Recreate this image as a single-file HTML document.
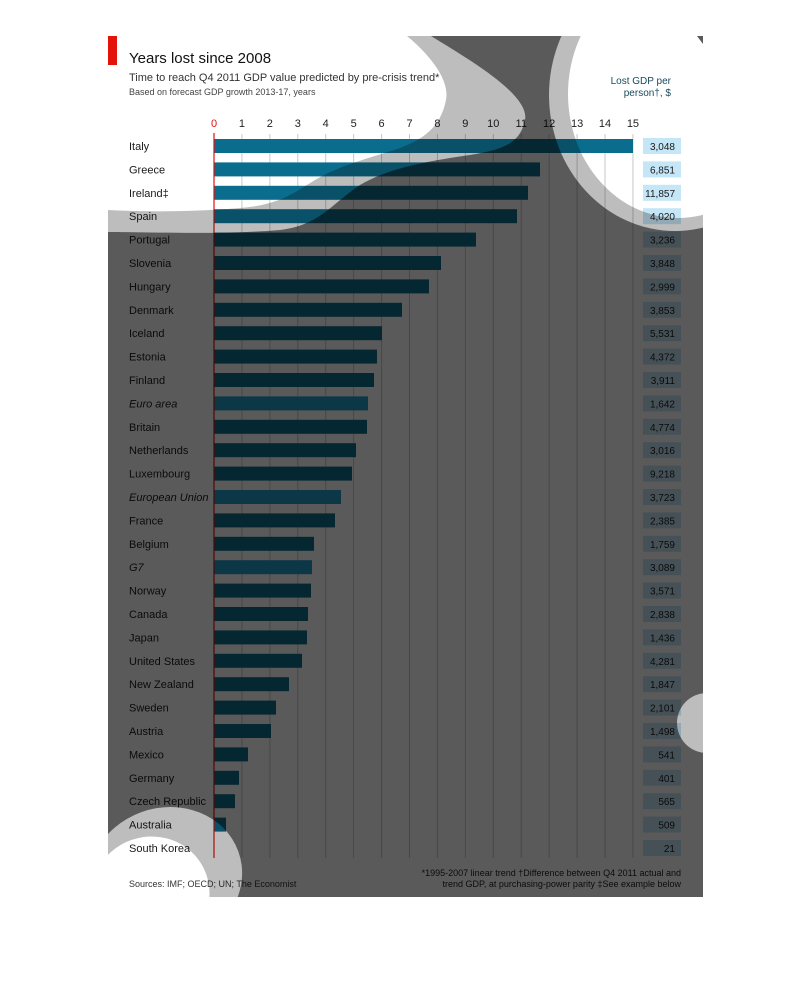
<!DOCTYPE html>
<html><head><meta charset="utf-8"><style>
html,body{margin:0;padding:0;background:#fff;width:810px;height:992px;overflow:hidden}
#c{position:absolute;left:0;top:0;width:810px;height:992px}
svg text{font-family:"Liberation Sans",sans-serif}
</style></head><body>
<svg id="c" width="810" height="992" viewBox="0 0 810 992" xmlns="http://www.w3.org/2000/svg">
<rect x="108" y="36" width="595" height="861" fill="#fff"/>
<g id="chart"></g>
<g style="mix-blend-mode:multiply">
<defs><clipPath id="cp"><rect x="108" y="36" width="595" height="861"/></clipPath></defs>
<g clip-path="url(#cp)">
<rect x="108" y="36" width="595" height="861" fill="#5a5a5a"/>
<path d="M108,36 L431,36 C470,60 530,95 525,120 C520,145 500,150 470,155 C420,162 385,170 360,185 C330,205 320,225 280,230 C220,235 150,232 108,232 Z" fill="#bdbdbd"/>
<path d="M108,36 L407,36 C430,55 450,80 446,100 C440,130 420,140 400,148 C370,158 340,165 315,180 C295,192 280,205 240,208 C190,212 150,212 108,210 Z" fill="#fff"/>
<ellipse cx="675" cy="95" rx="126" ry="136" fill="#bdbdbd"/>
<ellipse cx="678" cy="94" rx="110" ry="124" fill="#fff"/>
<polygon points="697,36 703,36 703,44" fill="#5a5a5a"/>
<ellipse cx="165" cy="878" rx="78" ry="70" fill="#bdbdbd" transform="rotate(-20 165 878)"/>
<ellipse cx="150" cy="895" rx="60" ry="58" fill="#fff" transform="rotate(-30 150 895)"/>
<circle cx="707" cy="723" r="30" fill="#bdbdbd"/>
</g></g>
</svg>
<script>
const g=document.getElementById('chart');const NS='http://www.w3.org/2000/svg';
function el(t,a,txt){const e=document.createElementNS(NS,t);for(const k in a)e.setAttribute(k,a[k]);if(txt!==undefined)e.textContent=txt;g.appendChild(e);return e;}
el('rect',{x:108,y:36,width:9,height:29,fill:'#e3120b'});
el('text',{x:129,y:63,'font-size':15,fill:'#111'},'Years lost since 2008');
el('text',{x:129,y:81,'font-size':11,fill:'#333'},'Time to reach Q4 2011 GDP value predicted by pre-crisis trend*');
el('text',{x:129,y:95,'font-size':9,fill:'#444'},'Based on forecast GDP growth 2013-17, years');
el('text',{x:671,y:84,'font-size':10,fill:'#1a4a5e','text-anchor':'end'},'Lost GDP per');
el('text',{x:671,y:96,'font-size':10,fill:'#1a4a5e','text-anchor':'end'},'person\u2020, $');
const x0=214,u=27.93;
for(let i=0;i<=15;i++){const x=x0+i*u;
 el('text',{x:x,y:127,'font-size':11,fill:i?'#222':'#e3120b','text-anchor':'middle'},String(i));
 if(i)el('line',{x1:x,y1:134,x2:x,y2:858,stroke:'#c8c8c8','stroke-width':1});}
const rows=[["Italy",633,"3,048"],["Greece",540,"6,851"],["Ireland\u2021",528,"11,857"],["Spain",517,"4,020"],["Portugal",476,"3,236"],["Slovenia",441,"3,848"],["Hungary",429,"2,999"],["Denmark",402,"3,853"],["Iceland",382,"5,531"],["Estonia",377,"4,372"],["Finland",374,"3,911"],["Euro area",368,"1,642",1],["Britain",367,"4,774"],["Netherlands",356,"3,016"],["Luxembourg",352,"9,218"],["European Union",341,"3,723",1],["France",335,"2,385"],["Belgium",314,"1,759"],["G7",312,"3,089",1],["Norway",311,"3,571"],["Canada",308,"2,838"],["Japan",307,"1,436"],["United States",302,"4,281"],["New Zealand",289,"1,847"],["Sweden",276,"2,101"],["Austria",271,"1,498"],["Mexico",248,"541"],["Germany",239,"401"],["Czech Republic",235,"565"],["Australia",226,"509"],["South Korea",214,"21"]];
rows.forEach((r,i)=>{const y=146+i*23.4;
 el('rect',{x:643,y:y-8,width:38,height:16,fill:'#c4e6f6'});
 const t=el('text',{x:129,y:y+4,'font-size':11,fill:'#1a1a1a'},r[0]);if(r[3])t.setAttribute('font-style','italic');
 if(r[1]>x0)el('rect',{x:x0,y:y-7,width:r[1]-x0,height:14,fill:r[3]?'#1f9ac8':'#0b6d8e'});
 el('text',{x:675,y:y+4,'font-size':10,fill:'#1a1a1a','text-anchor':'end'},r[2]);});
el('line',{x1:x0,y1:133,x2:x0,y2:858,stroke:'#e3120b','stroke-width':1.2});
el('text',{x:129,y:887,'font-size':9,fill:'#333'},'Sources: IMF; OECD; UN; The Economist');
el('text',{x:681,y:876,'font-size':9,fill:'#222','text-anchor':'end'},'*1995-2007 linear trend   \u2020Difference between Q4 2011 actual and');
el('text',{x:681,y:887,'font-size':9,fill:'#222','text-anchor':'end'},'trend GDP, at purchasing-power parity  \u2021See example below');
</script>
</body></html>
